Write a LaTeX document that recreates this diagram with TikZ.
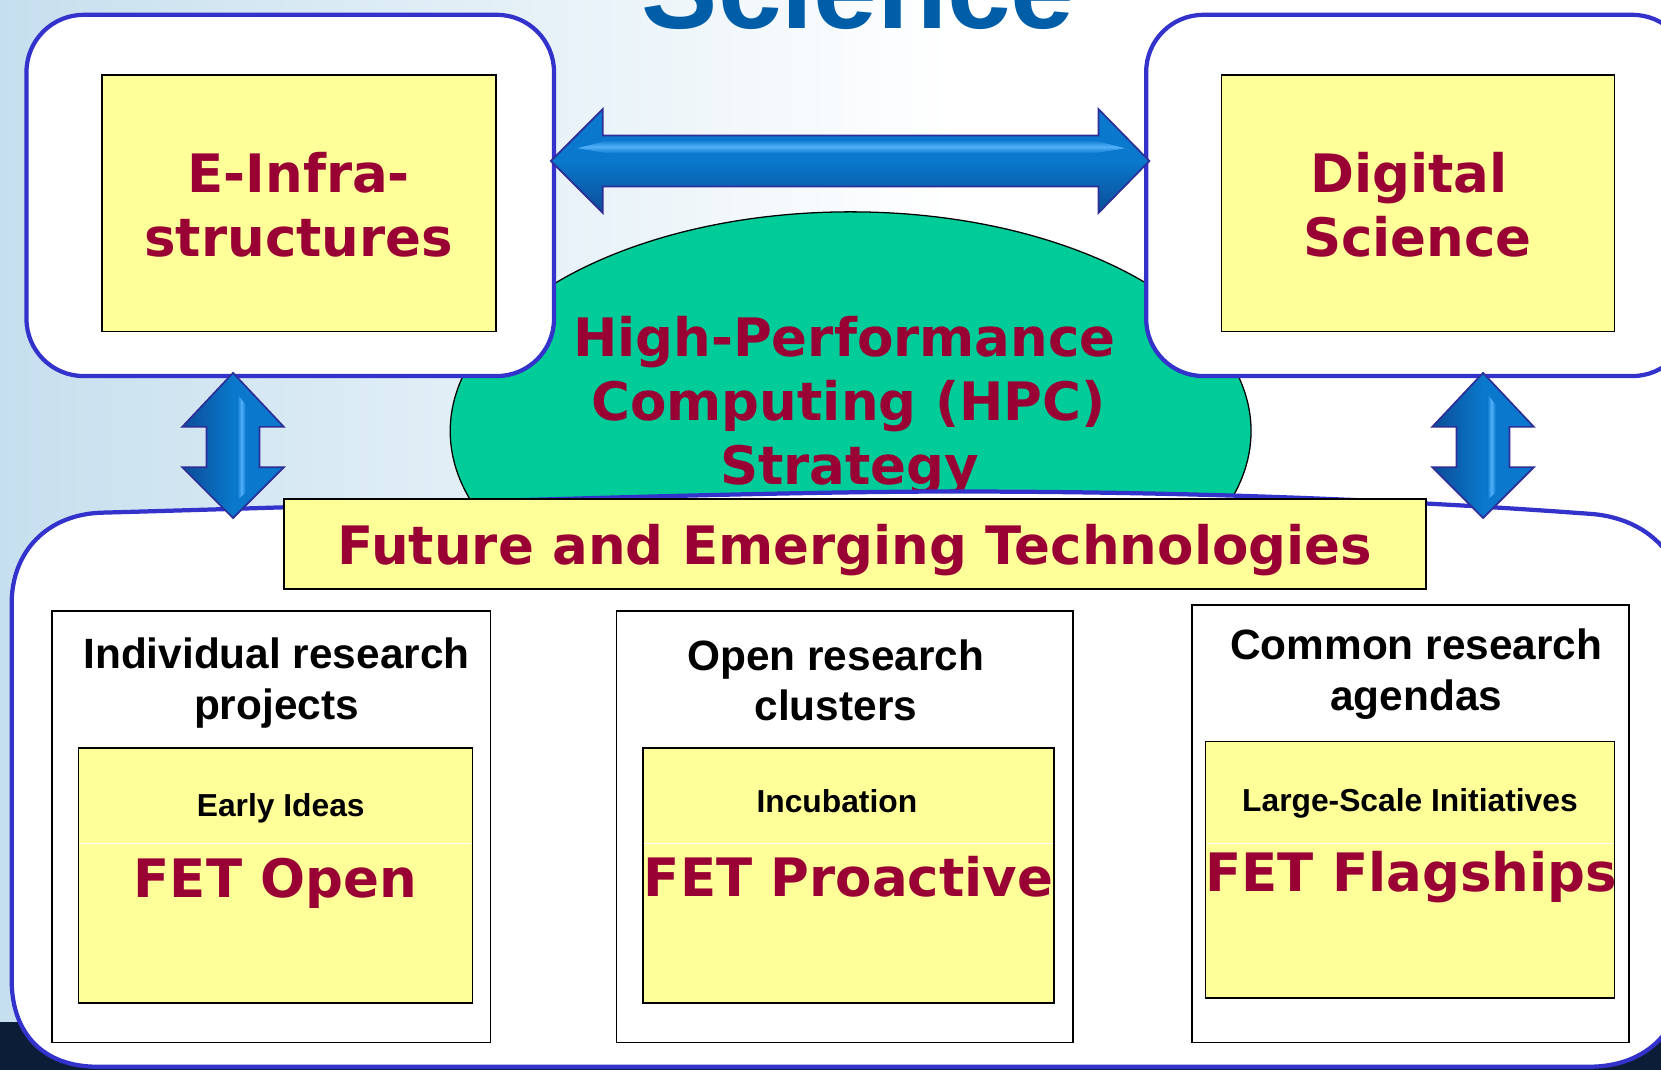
\documentclass[tikz,border=0pt]{standalone}
\usepackage{fontspec}
\usetikzlibrary{fit,shapes.geometric}
\newfontfamily\dvfont{DejaVu Sans}
\newfontfamily\arfont{Liberation Sans}
\definecolor{redtxt}{HTML}{990033}
\definecolor{yel}{HTML}{FFFF99}
\definecolor{hpcgreen}{HTML}{00CC99}
\definecolor{frameblue}{HTML}{3333CC}
\definecolor{navy}{HTML}{0C1D38}
\definecolor{bgblue}{HTML}{C6DFEE}
\definecolor{titleblue}{HTML}{005EA8}
\definecolor{arrmid}{HTML}{0A78CC}
\definecolor{arrlight}{HTML}{52B0FA}
\definecolor{arrdark}{HTML}{0B4C96}
\definecolor{arredge}{HTML}{2E2E98}
\begin{document}
\begin{tikzpicture}[x=0.5pt,y=-0.5pt,
  frame/.style={draw=frameblue, line width=2pt, fill=white, inner sep=0pt, rounded corners=27pt},
  ybox/.style={draw=black, line width=0.8pt, fill=yel, inner sep=0pt},
  wbox/.style={draw=black, line width=0.8pt, fill=white, inner sep=0pt},
  redtext/.style={font=\dvfont\bfseries\fontsize{25}{30}\selectfont, text=redtxt, inner sep=0pt, anchor=base},
  blacktext/.style={font=\arfont\bfseries\fontsize{20}{24}\selectfont, text=black, inner sep=0pt, anchor=base},
  smalltext/.style={font=\arfont\bfseries\fontsize{15}{18}\selectfont, text=black, inner sep=0pt, anchor=base},
  sepline/.style={draw=white, line width=0.5pt},
  arrowedge/.style={draw=arredge, line width=0.8pt, line join=miter},
]
\useasboundingbox (0,0) rectangle (1568,1010);
\clip (0,0) rectangle (1568,1010);
% background
\shade[left color=bgblue, right color=white] (0,0) rectangle (900,1010);
\fill[white] (900,0) rectangle (1568,1010);
\fill[navy] (0,965) rectangle (1568,1010);
% title fragment
\node[font=\arfont\bfseries\fontsize{54}{60}\selectfont, text=titleblue, anchor=base, inner sep=0pt] (title) at (810,27) {Science};
% HPC ellipse
\node[ellipse, draw=black, line width=0.6pt, fill=hpcgreen, minimum width=378pt, minimum height=207pt, inner sep=0pt] (hpc) at (803,407) {};
\node[redtext] (hpc1) at (797,337) {High-Performance};
\node[redtext] (hpc2) at (801,397) {Computing (HPC)};
\node[redtext] (hpc3) at (802,457) {Strategy};
% top frames
\node[frame, fit={(25,14) (523,355)}] (lframe) {};
\node[frame, fit={(1082,14) (1595,355)}] (rframe) {};
\node[ybox, fit={(96,71) (468,313)}] (einfra) {};
\node[redtext] (einfra1) at (282,182) {E-Infra-};
\node[redtext] (einfra2) at (282,242) {structures};
\node[ybox, fit={(1153,71) (1524,313)}] (digsci) {};
\node[redtext] (digsci1) at (1330,182) {Digital};
\node[redtext] (digsci2) at (1338,242) {Science};
% bottom frame
\draw[draw=frameblue, line width=2pt, fill=white]
  (11,570) .. controls (11,520) and (45,486) .. (95,484)
  .. controls (350,477) and (700,464) .. (900,464)
  .. controls (1150,464) and (1350,474) .. (1500,485)
  .. controls (1550,488) and (1590,520) .. (1590,575)
  -- (1590,915) .. controls (1590,972) and (1555,1007) .. (1500,1007)
  -- (92,1007) .. controls (40,1007) and (11,975) .. (11,925) -- cycle;
% FET banner
\node[ybox, fit={(268,471) (1346,556)}] (fet) {};
\node[redtext] (fettext) at (807,533) {Future and Emerging Technologies};
% column A
\node[wbox, fit={(49,577) (463,984)}] (colA) {};
\node[blacktext] (colA1) at (261,631) {Individual research};
\node[blacktext] (colA2) at (261,679) {projects};
\node[ybox, fit={(74,706) (446,947)}] (innA) {};
\draw[sepline] (75,796) -- (445,796);
\node[smalltext] (earlyideas) at (265,771) {Early Ideas};
\node[redtext] (fetopen) at (260,847) {FET Open};
% column B
\node[wbox, fit={(582,577) (1013,984)}] (colB) {};
\node[blacktext] (colB1) at (789,633) {Open research};
\node[blacktext] (colB2) at (789,680) {clusters};
\node[ybox, fit={(607,706) (995,947)}] (innB) {};
\draw[sepline] (608,796) -- (994,796);
\node[smalltext] (incub) at (790,767) {Incubation};
\node[redtext] (fetpro) at (801,846) {FET Proactive};
% column C
\node[wbox, fit={(1125,571) (1538,984)}] (colC) {};
\node[blacktext] (colC1) at (1337,623) {Common research};
\node[blacktext] (colC2) at (1337,671) {agendas};
\node[ybox, fit={(1138,700) (1524,942)}] (innC) {};
\draw[sepline] (1139,796) -- (1523,796);
\node[smalltext] (lsi) at (1331,766) {Large-Scale Initiatives};
\node[redtext] (fetflag) at (1332,842) {FET Flagships};
% vertical double arrows
\foreach \cx/\nm in {220/varl, 1400/varr}{
  \coordinate (\nm top) at (\cx,352);
  \coordinate (\nm bot) at (\cx,489);
  \shade[left color=arrdark, right color=arrmid, middle color=arrmid]
    (\nm top) -- (\cx+48,403) -- (\cx+25,403) -- (\cx+25,441) -- (\cx+48,441) -- (\nm bot)
    -- (\cx-48,441) -- (\cx-25,441) -- (\cx-25,403) -- (\cx-48,403) -- cycle;
  \shade[left color=arrmid, right color=arrmid, middle color=arrlight]
    (\cx+4,372) -- (\cx+12,382) -- (\cx+12,465) -- (\cx+4,472) -- cycle;
  \draw[arrowedge]
    (\nm top) -- (\cx+48,403) -- (\cx+25,403) -- (\cx+25,441) -- (\cx+48,441) -- (\nm bot)
    -- (\cx-48,441) -- (\cx-25,441) -- (\cx-25,403) -- (\cx-48,403) -- cycle;
}
% horizontal double arrow
\coordinate (harl) at (520,152);
\coordinate (harr) at (1085,152);
\shade[top color=arrmid, bottom color=arrdark, middle color=arrmid]
  (harl) -- (569,103) -- (569,128) -- (1037,128) -- (1037,103) -- (harr)
  -- (1037,201) -- (1037,176) -- (569,176) -- (569,201) -- cycle;
\shade[top color=arrmid, bottom color=arrmid, middle color=arrlight]
  (545,140) -- (575,132) -- (1031,132) -- (1062,140) -- (1031,145) -- (575,145) -- cycle;
\draw[arrowedge]
  (harl) -- (569,103) -- (569,128) -- (1037,128) -- (1037,103) -- (harr)
  -- (1037,201) -- (1037,176) -- (569,176) -- (569,201) -- cycle;
\end{tikzpicture}
\end{document}
